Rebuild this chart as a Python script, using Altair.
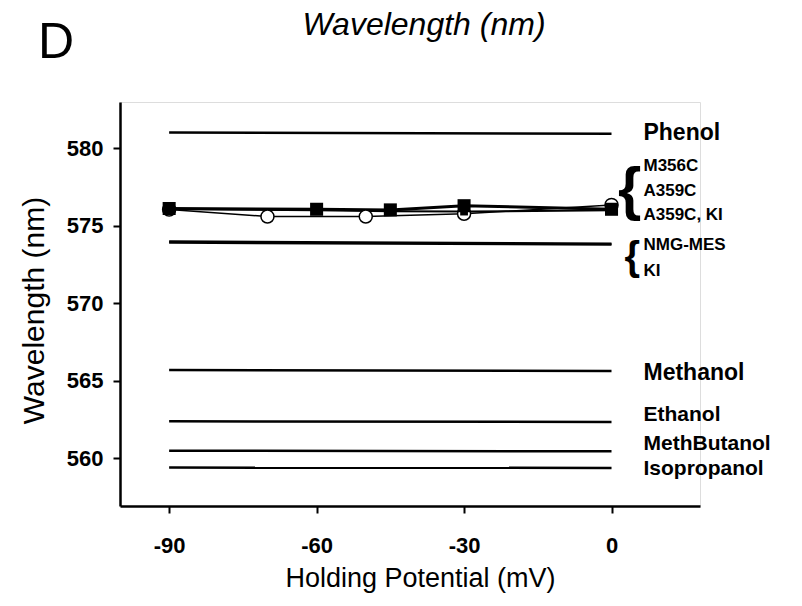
import altair as alt
import pandas as pd

FONT = "Liberation Sans"

# ---- data ----
x_ticks = [-90, -60, -30, 0]
y_ticks = [560, 565, 570, 575, 580]

# horizontal reference lines (left end at -90 mV, right end at 0 mV)
ref_hp = [-90, 0]
ref_names = ["Phenol", "NMG-MES", "KI", "Methanol", "Ethanol", "MethButanol", "Isopropanol"]
ref_phenol = [581.03, 580.95]
ref_nmg_mes = [573.98, 573.85]
ref_ki = [573.92, 573.80]
ref_methanol = [565.68, 565.62]
ref_ethanol = [562.37, 562.33]
ref_methbutanol = [560.47, 560.43]
ref_isopropanol = [559.38, 559.36]

# measured series
hp_m356c = [-90, -60, -45, -30, 0]
wl_m356c = [576.12, 576.07, 576.03, 576.30, 576.07]
hp_a359c = [-90, -70, -50, -30, 0]
wl_a359c = [576.05, 575.60, 575.60, 575.78, 576.35]
hp_a359c_ki = [-90, -60, -45, -30, 0]
wl_a359c_ki = [576.08, 576.00, 575.95, 575.92, 576.00]

# right-hand labels (anchored in data units)
large_labels = ["Phenol", "Methanol"]
large_label_wl = [581.0, 565.5]
mid_labels = ["Ethanol", "MethButanol", "Isopropanol"]
mid_label_wl = [562.8, 560.93, 559.31]
small_labels = ["M356C", "A359C", "A359C, KI", "NMG-MES", "KI"]
small_label_wl = [578.85, 577.25, 575.68, 573.74, 572.06]
label_hp = 6.5
brace_hp = [3.7, 4.2]
brace_wl = [577.26, 572.9]

# ---- tables ----
ref_vals = [ref_phenol, ref_nmg_mes, ref_ki, ref_methanol, ref_ethanol, ref_methbutanol, ref_isopropanol]
ref_df = pd.DataFrame(
    [{"name": n, "hp": h, "wl": v[i]} for n, v in zip(ref_names, ref_vals) for i, h in enumerate(ref_hp)]
)
m356c_df = pd.DataFrame({"hp": hp_m356c, "wl": wl_m356c, "s": "M356C"})
a359c_df = pd.DataFrame({"hp": hp_a359c, "wl": wl_a359c, "s": "A359C"})
a359c_ki_df = pd.DataFrame({"hp": hp_a359c_ki, "wl": wl_a359c_ki, "s": "A359C, KI"})
large_df = pd.DataFrame({"hp": label_hp, "wl": large_label_wl, "t": large_labels})
mid_df = pd.DataFrame({"hp": label_hp, "wl": mid_label_wl, "t": mid_labels})
small_df = pd.DataFrame({"hp": label_hp, "wl": small_label_wl, "t": small_labels})
brace_big_df = pd.DataFrame({"hp": [brace_hp[0]], "wl": [brace_wl[0]], "t": ["{"]})
brace_small_df = pd.DataFrame({"hp": [brace_hp[1]], "wl": [brace_wl[1]], "t": ["{"]})
d_df = pd.DataFrame({"t": ["D"]})
title_df = pd.DataFrame({"t": ["Wavelength (nm)"]})

W, H = 580, 404
x_scale = alt.Scale(domain=[-100, 18], nice=False, zero=False)
y_scale = alt.Scale(domain=[556.9, 583.0], nice=False, zero=False)

common_axis = dict(
    domainColor="black", domainWidth=2.5, tickColor="black", tickWidth=2, tickSize=7,
    labelFont=FONT, labelFontSize=22, labelFontWeight="bold", labelColor="black",
    titleFont=FONT, titleFontWeight="normal", titleColor="black", grid=False,
    labelExpr="'' + datum.value",
)
x_axis = alt.Axis(values=x_ticks, title="Holding Potential (mV)", labelPadding=22,
                  titleFontSize=27, titleX=300, titleY=72, titleBaseline="middle",
                  **common_axis)
y_axis = alt.Axis(values=y_ticks, title="Wavelength (nm)", labelPadding=10,
                  titleFontSize=30, titleX=-86, titleY=208, titleAngle=-90,
                  titleBaseline="middle", **common_axis)

X = alt.X("hp:Q", scale=x_scale, axis=x_axis)
Y = alt.Y("wl:Q", scale=y_scale, axis=y_axis)

ref_lines = alt.Chart(ref_df).mark_line(color="black", strokeWidth=2.5).encode(x=X, y=Y, detail="name:N")
line_m = alt.Chart(m356c_df).mark_line(color="black", strokeWidth=3).encode(x=X, y=Y)
line_k = alt.Chart(a359c_ki_df).mark_line(color="black", strokeWidth=2).encode(x=X, y=Y)
line_a = alt.Chart(a359c_df).mark_line(color="black", strokeWidth=1.5).encode(x=X, y=Y)
pts_a = alt.Chart(a359c_df).mark_point(shape="circle", filled=True, fill="white", stroke="black",
                                       strokeWidth=1.5, size=170, opacity=1).encode(x=X, y=Y)
pts_k = alt.Chart(a359c_ki_df).mark_point(shape="square", filled=True, color="black",
                                          size=60, opacity=1).encode(x=X, y=Y)
pts_m = alt.Chart(m356c_df).mark_point(shape="square", filled=True, color="black",
                                       size=170, opacity=1).encode(x=X, y=Y)

large_txt = alt.Chart(large_df).mark_text(align="left", baseline="middle", font=FONT, fontSize=23,
                                          fontWeight="bold", color="black").encode(x=X, y=Y, text="t:N")
mid_txt = alt.Chart(mid_df).mark_text(align="left", baseline="middle", font=FONT, fontSize=21,
                                      fontWeight="bold", color="black").encode(x=X, y=Y, text="t:N")
small_txt = alt.Chart(small_df).mark_text(align="left", baseline="middle", font=FONT, fontSize=17,
                                          fontWeight="bold", color="black").encode(x=X, y=Y, text="t:N")
brace_big = alt.Chart(brace_big_df).mark_text(align="center", baseline="middle", font=FONT, fontSize=60,
                                              fontWeight="bold", color="black").encode(x=X, y=Y, text="t:N")
brace_small = alt.Chart(brace_small_df).mark_text(align="center", baseline="middle", font=FONT, fontSize=40,
                                                  fontWeight="bold", color="black").encode(x=X, y=Y, text="t:N")
d_txt = alt.Chart(d_df).mark_text(align="center", baseline="alphabetic", font=FONT, fontSize=50,
                                  fontWeight="normal", color="black").encode(
    x=alt.value(-64), y=alt.value(-44), text="t:N")
title_txt = alt.Chart(title_df).mark_text(align="center", baseline="alphabetic", font=FONT, fontSize=32,
                                          fontStyle="italic", fontWeight="normal", color="black").encode(
    x=alt.value(304), y=alt.value(-67), text="t:N")

chart = alt.layer(
    ref_lines, line_k, line_a, line_m, pts_a, pts_k, pts_m,
    large_txt, mid_txt, small_txt, brace_big, brace_small, d_txt, title_txt,
).properties(
    width=W, height=H,
    autosize=alt.AutoSizeParams(type="none"),
    padding={"left": 120, "top": 102, "right": 102, "bottom": 100},
).configure_view(stroke=None).configure(background="white")

chart.save("out.html", embed_options={"renderer": "svg", "actions": False})
